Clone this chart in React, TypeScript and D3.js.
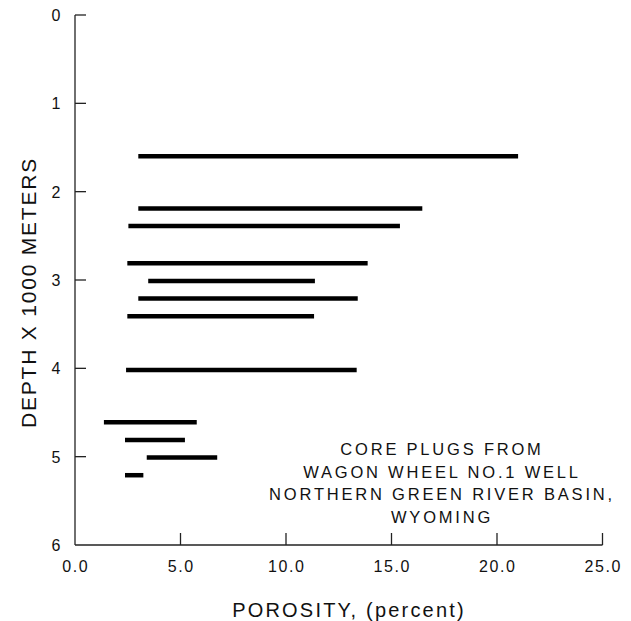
import React from 'react';
import * as d3 from 'd3';

// core plug porosity ranges, depth in 1000 m
const depths = [1.6, 2.19, 2.39, 2.81, 3.01, 3.21, 3.41, 4.02, 4.61, 4.81, 5.01, 5.21];
const porosityMin = [3.0, 3.0, 2.53, 2.48, 3.47, 3.0, 2.48, 2.42, 1.37, 2.37, 3.4, 2.37];
const porosityMax = [21.0, 16.46, 15.4, 13.87, 11.37, 13.4, 11.33, 13.35, 5.77, 5.21, 6.74, 3.24];

const xTicks = [0, 5, 10, 15, 20, 25];
const yTicks = [0, 1, 2, 3, 4, 5, 6];
const noteLines = ['CORE PLUGS FROM', 'WAGON WHEEL NO.1 WELL', 'NORTHERN GREEN RIVER BASIN,', 'WYOMING'];

const W = 631;
const H = 621;
const font = '"Liberation Sans", Arial, sans-serif';
const ink = '#111';

const App = () => {
  const x = d3.scaleLinear().domain([0, 25]).range([75, 602.5]);
  const y = d3.scaleLinear().domain([0, 6]).range([15, 545]);
  const fmt = d3.format('.1f');
  const tickLen = 11;

  const bars = depths.map((d, i) => ({ d, lo: porosityMin[i], hi: porosityMax[i] }));

  return (
    <svg width={W} height={H} style={{ position: 'absolute', left: 0, top: 0, display: 'block', background: '#fff' }}>
      {/* axes */}
      <g stroke="#222" strokeWidth={1.3} fill="none">
        <line x1={x(0)} x2={x(0)} y1={y(0)} y2={y(6)} />
        <line x1={x(0)} x2={x(25)} y1={y(6)} y2={y(6)} />
        {yTicks.slice(0, -1).map(t => (
          <line key={'yt' + t} x1={x(0)} x2={x(0) + tickLen} y1={y(t)} y2={y(t)} />
        ))}
        {xTicks.slice(1).map(t => (
          <line key={'xt' + t} x1={x(t)} x2={x(t)} y1={y(6)} y2={y(6) - tickLen - 1} />
        ))}
      </g>

      {/* tick labels */}
      <g fill={ink} fontFamily={font} fontSize={16}>
        {yTicks.map(t => (
          <text key={'yl' + t} x={56} y={y(t) + 6} textAnchor="middle">{t}</text>
        ))}
        {xTicks.map(t => (
          <text key={'xl' + t} x={x(t) + 0.8} y={571.5} textAnchor="middle" letterSpacing={1.6}>{fmt(t)}</text>
        ))}
      </g>

      {/* bars */}
      <g stroke="#000" strokeWidth={4.5} strokeLinecap="butt">
        {bars.map((b, i) => (
          <line key={i} x1={x(b.lo)} x2={x(b.hi)} y1={y(b.d)} y2={y(b.d)} />
        ))}
      </g>

      {/* axis titles */}
      <text x={349} y={617} textAnchor="middle" fontFamily={font} fontSize={20} letterSpacing={2.2} fill={ink}>
        POROSITY, (percent)
      </text>
      <text
        transform={`translate(35.5, ${292.5}) rotate(-90)`}
        textAnchor="middle"
        fontFamily={font}
        fontSize={21}
        letterSpacing={1.8}
        fill={ink}
      >
        DEPTH X 1000 METERS
      </text>

      {/* note */}
      <g fill={ink} fontFamily={font} fontSize={16.5} letterSpacing={2.8} textAnchor="middle">
        {noteLines.map((s, i) => (
          <text key={i} x={442} y={455 + i * 22.5}>{s}</text>
        ))}
      </g>
    </svg>
  );
};

export default App;
